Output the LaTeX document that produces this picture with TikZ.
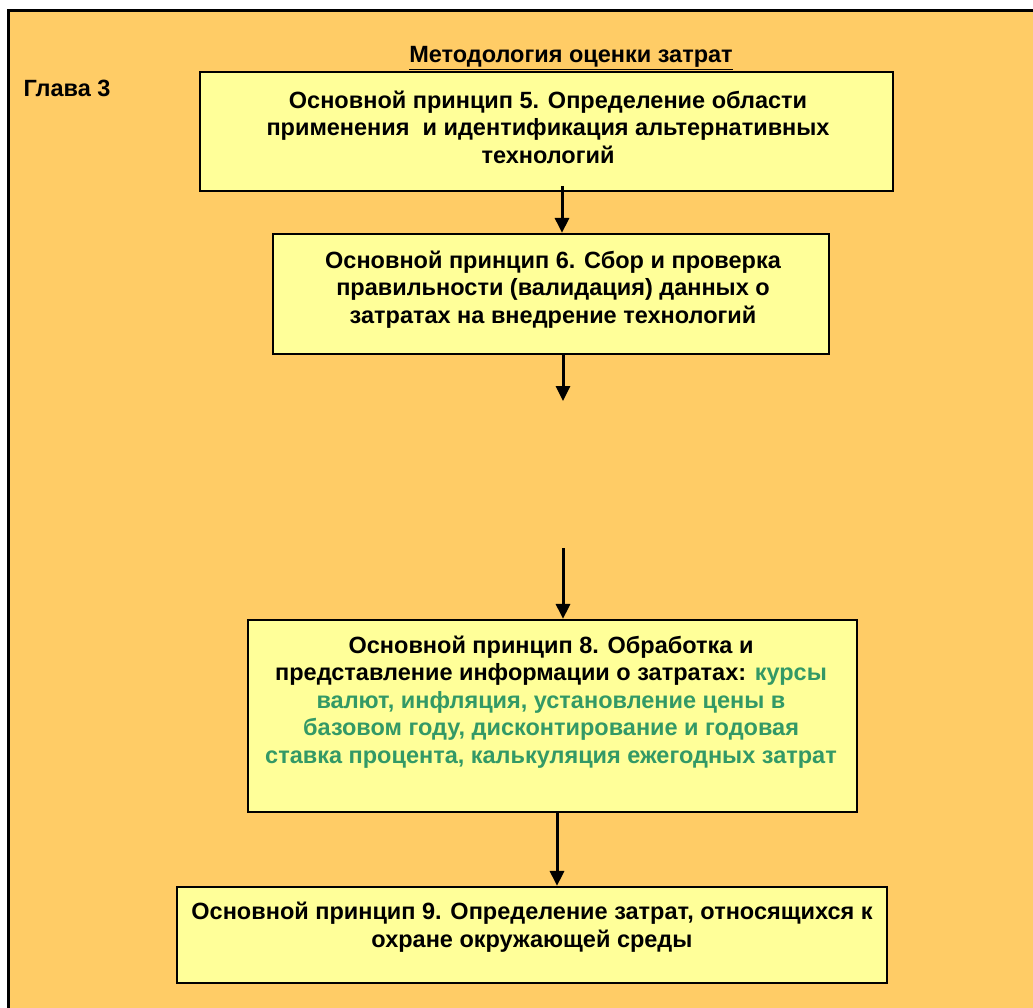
\documentclass[tikz,border=0pt]{standalone}
\usepackage{fontspec}
\setmainfont{Liberation Sans}
\usetikzlibrary{arrows.meta}
\definecolor{pageorange}{HTML}{FFCC66}
\definecolor{boxyellow}{HTML}{FFFF99}
\definecolor{notegreen}{HTML}{339966}
\begin{document}
\begin{tikzpicture}[x=1pt,y=-1pt,
  stepbox/.style={draw=black,line width=2.2pt,fill=boxyellow,inner sep=0pt},
  steptext/.style={align=center,inner sep=0pt,font=\fontsize{23.5}{27.5}\selectfont\bfseries},
  flow/.style={line width=3pt,-{Triangle[width=14pt,length=15pt]}}]
% canvas and outer frame
\useasboundingbox (0,0) rectangle (1033,1008);
\fill[white] (0,0) rectangle (1033,1008);
\fill[pageorange] (8,11) rectangle (1033,1008);
\draw[line width=3pt] (8,1008) -- (8,11) -- (1033,11);

% headings
\node[inner sep=0pt,font=\fontsize{23.5}{27.5}\selectfont\bfseries] (title) at (571,58) {\underline{Методология оценки затрат}};
\node[inner sep=0pt,font=\fontsize{23.5}{27.5}\selectfont\bfseries] (chapter) at (67,88) {Глава 3};

% boxes
\node[stepbox,minimum width=693,minimum height=119] (b1) at (546.5,131.5) {};
\node[steptext] (t1) at (548,127) {Основной принцип 5. Определение области\\применения~ и идентификация альтернативных\\технологий};

\node[stepbox,minimum width=556,minimum height=120] (b2) at (551,294) {};
\node[steptext] (t2) at (553,289.5) {Основной принцип 6. Сбор и проверка\\правильности (валидация) данных о\\затратах на внедрение технологий};

\node[stepbox,minimum width=609,minimum height=192] (b3) at (552.5,716) {};
\node[steptext] (t3) at (551,702) {Основной принцип 8. Обработка и\\представление информации о затратах: \textcolor{notegreen}{курсы}\\\textcolor{notegreen}{валют, инфляция, установление цены в}\\\textcolor{notegreen}{базовом году, дисконтирование и годовая}\\\textcolor{notegreen}{ставка процента, калькуляция ежегодных затрат}};

\node[stepbox,minimum width=710,minimum height=96] (b4) at (532,935) {};
\node[steptext] (t4) at (532,927) {Основной принцип 9. Определение затрат, относящихся к\\охране окружающей среды};

% connectors
\coordinate (a1) at (562,186);
\draw[flow] (a1) -- (a1 |- b2.north);
\coordinate (a2) at (563,354);
\coordinate (a2e) at (563,401);
\draw[flow] (a2) -- (a2e);
\coordinate (a3) at (563,548);
\draw[flow] (a3) -- (a3 |- b3.north);
\coordinate (a4) at (557,812);
\draw[flow] (a4) -- (a4 |- b4.north);
\end{tikzpicture}
\end{document}
